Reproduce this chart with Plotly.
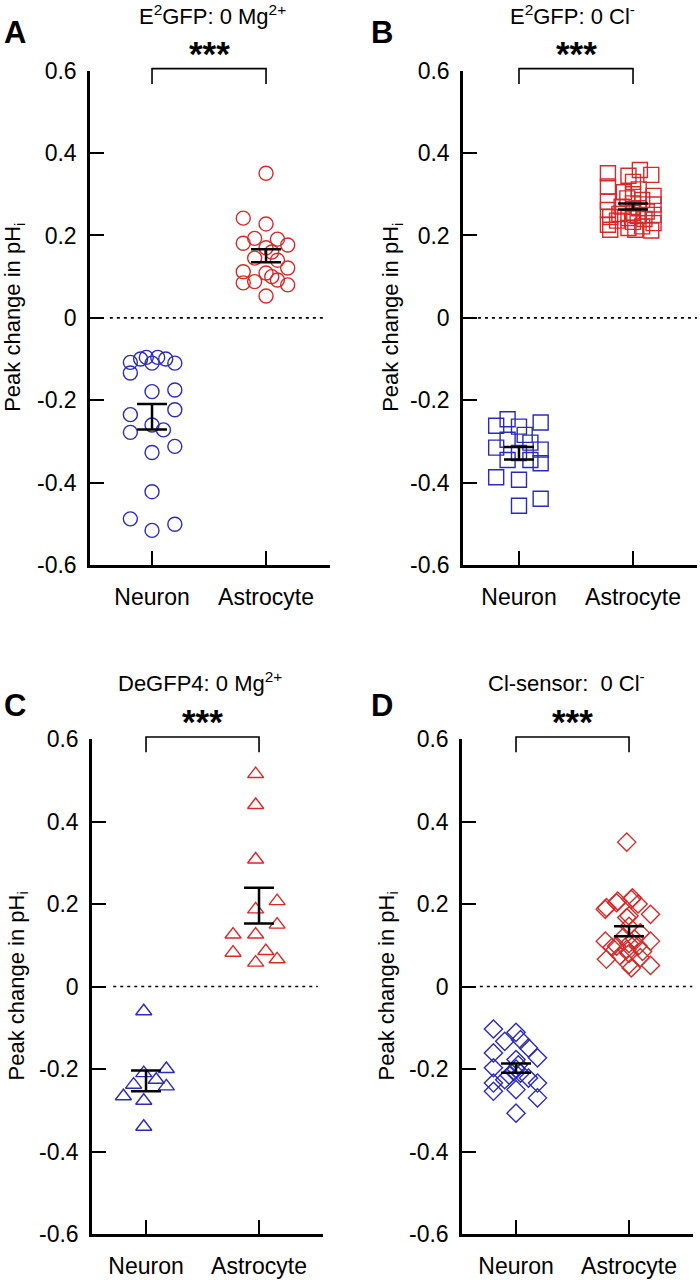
import numpy as np
import plotly.graph_objects as go

# ---------------- data ----------------
categories = ["Neuron", "Astrocyte"]
y_tick_vals = [-0.6, -0.4, -0.2, 0, 0.2, 0.4, 0.6]
y_tick_text = ["-0.6", "-0.4", "-0.2", "0", "0.2", "0.4", "0.6"]

titles = ["E<sup>2</sup>GFP: 0 Mg<sup>2+</sup>", "E<sup>2</sup>GFP: 0 Cl<sup>-</sup>",
          "DeGFP4: 0 Mg<sup>2+</sup>", "Cl-sensor:  0 Cl<sup>-</sup>"]
panel_letters = ["A", "B", "C", "D"]
significance = ["***", "***", "***", "***"]

# Panel A (circles)
A_neu = [-0.108, -0.100, -0.096, -0.096, -0.110, -0.100, -0.110, -0.134, -0.179, -0.175, -0.235,
         -0.223, -0.278, -0.260, -0.272, -0.312, -0.327, -0.422, -0.488, -0.501, -0.516]
A_neu_jit = [-0.19, -0.10, -0.05, 0.05, 0.0, 0.12, 0.20, -0.19, 0.0, 0.20, -0.19,
             0.20, -0.19, 0.0, 0.10, 0.20, 0.0, 0.0, -0.19, 0.20, 0.0]
A_ast = [0.351, 0.242, 0.228, 0.193, 0.191, 0.181, 0.177, 0.170, 0.160, 0.145,
         0.140, 0.121, 0.112, 0.109, 0.100, 0.092, 0.088, 0.085, 0.080, 0.053]
A_ast_jit = [0.0, -0.2, 0.0, -0.1, 0.1, -0.2, 0.19, 0.0, 0.05, -0.1,
             0.1, 0.19, -0.2, 0.0, 0.05, 0.1, -0.1, -0.2, 0.19, 0.0]

# Panel B (squares)
B_neu = [-0.246, -0.254, -0.262, -0.264, -0.284, -0.296, -0.303, -0.315, -0.320,
         -0.328, -0.345, -0.345, -0.353, -0.387, -0.393, -0.439, -0.456]
B_neu_jit = [-0.1, 0.19, -0.2, 0.0, 0.05, -0.1, 0.1, -0.2, 0.19,
             0.0, -0.1, 0.1, 0.19, -0.2, 0.0, 0.19, 0.0]
B_ast = [0.359, 0.351, 0.347, 0.345, 0.330, 0.319, 0.312, 0.305, 0.300, 0.296,
         0.290, 0.286, 0.282, 0.278, 0.275, 0.270, 0.266, 0.262, 0.258, 0.255,
         0.252, 0.250, 0.247, 0.245, 0.242, 0.240, 0.236, 0.233, 0.230, 0.226,
         0.222, 0.218, 0.214, 0.212, 0.214]
B_ast_jit = [0.06, -0.22, 0.16, -0.04, 0.0, -0.22, 0.05, -0.08, 0.0, 0.18,
             -0.05, 0.08, -0.22, 0.0, 0.18, -0.1, 0.05, -0.22, 0.12, 0.0,
             -0.12, 0.18, 0.04, -0.2, -0.04, 0.1, -0.14, 0.0, 0.18, -0.22,
             0.08, -0.04, -0.2, 0.16, 0.02]

# Panel C (triangles)
C_neu = [-0.060, -0.200, -0.210, -0.226, -0.238, -0.242, -0.266, -0.277, -0.340]
C_neu_jit = [-0.02, 0.18, -0.02, 0.09, -0.11, 0.18, -0.2, -0.02, -0.02]
C_ast = [0.515, 0.440, 0.308, 0.207, 0.187, 0.150, 0.126, 0.126, 0.086, 0.082, 0.066, 0.058]
C_ast_jit = [-0.03, -0.03, -0.03, 0.16, -0.03, 0.16, -0.23, -0.03, 0.06, -0.23, 0.16, -0.03]

# Panel D (diamonds)
D_neu = [-0.103, -0.111, -0.129, -0.133, -0.149, -0.161, -0.173, -0.177, -0.190, -0.197,
         -0.200, -0.206, -0.210, -0.215, -0.222, -0.226, -0.234, -0.234, -0.250, -0.254,
         -0.270, -0.307]
D_neu_jit = [-0.2, 0.0, 0.04, -0.1, 0.11, -0.2, 0.19, 0.0, 0.02, -0.2,
             0.0, -0.02, 0.04, -0.06, 0.11, -0.1, 0.19, -0.2, 0.0, -0.2,
             0.19, 0.0]
D_ast = [0.350, 0.215, 0.211, 0.207, 0.203, 0.200, 0.191, 0.187, 0.175, 0.171,
         0.167, 0.146, 0.130, 0.120, 0.115, 0.110, 0.110, 0.104, 0.098, 0.098,
         0.095, 0.090, 0.085, 0.080, 0.075, 0.070, 0.066, 0.053, 0.051, 0.045]
D_ast_jit = [-0.02, 0.03, 0.02, -0.1, -0.11, 0.08, -0.2, -0.21, 0.19, 0.0,
             -0.02, 0.0, 0.1, -0.05, 0.05, -0.21, 0.19, 0.0, -0.11, 0.08,
             -0.15, -0.02, 0.12, 0.0, -0.08, 0.1, -0.2, 0.0, 0.19, 0.02]

# ---------------- styling / layout ----------------
W, H = 700, 1280
BLUE = "#2b2bb6"
RED = "#d42a2a"
FONT = "Liberation Sans, Arial, sans-serif"
TICK_SIZE = 23

panels = [
    dict(neu=A_neu, nj=A_neu_jit, ast=A_ast, aj=A_ast_jit, sym="circle-open", size=14,
         px=(90, 330), py=(70.7, 565), xr=(-0.544, 1.561), dot=(-0.37, 1.52),
         title_xy=(212, 15), letter_xy=(15, 33), ytitle_x=14),
    dict(neu=B_neu, nj=B_neu_jit, ast=B_ast, aj=B_ast_jit, sym="square-open", size=15,
         px=(463, 697), py=(70.7, 565), xr=(-0.491, 1.561), dot=(-0.36, 1.56),
         title_xy=(572, 15), letter_xy=(382, 33), ytitle_x=392),
    dict(neu=C_neu, nj=C_neu_jit, ast=C_ast, aj=C_ast_jit, sym="triangle-up-open", size=14,
         px=(92, 323), py=(739, 1234), xr=(-0.478, 1.566), dot=(-0.29, 1.52),
         title_xy=(200, 682), letter_xy=(15, 705), ytitle_x=17),
    dict(neu=D_neu, nj=D_neu_jit, ast=D_ast, aj=D_ast_jit, sym="diamond-open", size=14,
         px=(462, 693), py=(739, 1234), xr=(-0.478, 1.566), dot=(-0.32, 1.56),
         title_xy=(566, 682), letter_xy=(382, 705), ytitle_x=387),
]

YR = (-0.6, 0.6)


def paper_x(px):
    return px / W


def paper_y(py):
    return 1 - py / H


fig = go.Figure()
shapes = []
annotations = []

for i, p in enumerate(panels):
    n = "" if i == 0 else str(i + 1)
    xa, ya = "x" + n, "y" + n

    def x_to_px(v, p=p):
        return p["px"][0] + (v - p["xr"][0]) / (p["xr"][1] - p["xr"][0]) * (p["px"][1] - p["px"][0])

    def y_to_px(v, p=p):
        return p["py"][1] - (v - YR[0]) / (YR[1] - YR[0]) * (p["py"][1] - p["py"][0])

    for k, (vals, jit, col) in enumerate([(p["neu"], p["nj"], BLUE), (p["ast"], p["aj"], RED)]):
        xs = [k + j for j in jit]
        fig.add_trace(go.Scatter(
            x=xs, y=vals, mode="markers", xaxis=xa, yaxis=ya, showlegend=False,
            marker=dict(symbol=p["sym"], size=p["size"], color=col,
                        line=dict(width=1.4, color=col)),
            cliponaxis=False, hoverinfo="y"))
    # mean +/- SEM
    for k, vals in enumerate([p["neu"], p["ast"]]):
        arr = np.array(vals)
        m = arr.mean()
        sem = arr.std(ddof=1) / np.sqrt(len(arr))
        fig.add_trace(go.Scatter(
            x=[k], y=[m], mode="markers", xaxis=xa, yaxis=ya, showlegend=False,
            marker=dict(size=1, color="rgba(0,0,0,0)"),
            error_y=dict(type="data", array=[sem], visible=True, color="black",
                         thickness=2.5, width=15),
            cliponaxis=False, hoverinfo="y"))

    fig.update_layout(**{
        "xaxis" + n: dict(
            domain=[paper_x(p["px"][0]), paper_x(p["px"][1])], range=list(p["xr"]),
            anchor=ya, tickvals=[0, 1], ticktext=categories, showline=True,
            linecolor="black", linewidth=2.5, ticks="inside", ticklen=14, tickwidth=2,
            tickcolor="black", showgrid=False, zeroline=False, ticklabelstandoff=10,
            automargin=False,
            tickfont=dict(family=FONT, size=TICK_SIZE, color="black")),
        "yaxis" + n: dict(
            domain=[paper_y(p["py"][1]), paper_y(p["py"][0])], range=list(YR),
            anchor=xa, tickvals=y_tick_vals, ticktext=y_tick_text, showline=True,
            linecolor="black", linewidth=2.5, ticks="inside", ticklen=14, tickwidth=2,
            tickcolor="black", showgrid=False, zeroline=False, ticklabelstandoff=6,
            automargin=False,
            tickfont=dict(family=FONT, size=TICK_SIZE, color="black")),
    })

    # dotted zero line
    shapes.append(dict(type="line", xref=xa, yref=ya, x0=p["dot"][0], x1=p["dot"][1],
                       y0=0, y1=0, line=dict(color="black", width=1.6, dash="3px,4px")))

    # significance bracket
    bx0, bx1 = paper_x(x_to_px(0)), paper_x(x_to_px(1))
    btop_px = y_to_px(0.605)
    btop = paper_y(btop_px)
    bleg = paper_y(y_to_px(0.568))
    shapes.append(dict(type="path", xref="paper", yref="paper",
                       path=f"M{bx0},{bleg} L{bx0},{btop} L{bx1},{btop} L{bx1},{bleg}",
                       line=dict(color="black", width=1.6)))
    annotations.append(dict(x=(bx0 + bx1) / 2, y=paper_y(btop_px - 15),
                            xref="paper", yref="paper", text="<b>" + significance[i] + "</b>",
                            showarrow=False, xanchor="center", yanchor="middle",
                            font=dict(family=FONT, size=35, color="black")))

    # panel title
    annotations.append(dict(x=paper_x(p["title_xy"][0]), y=paper_y(p["title_xy"][1]),
                            xref="paper", yref="paper", text=titles[i], showarrow=False,
                            xanchor="center", yanchor="middle",
                            font=dict(family=FONT, size=22, color="black")))
    # panel letter
    annotations.append(dict(x=paper_x(p["letter_xy"][0]), y=paper_y(p["letter_xy"][1]),
                            xref="paper", yref="paper", text="<b>" + panel_letters[i] + "</b>",
                            showarrow=False, xanchor="center", yanchor="middle",
                            font=dict(family=FONT, size=31, color="black")))
    # y-axis title
    annotations.append(dict(x=paper_x(p["ytitle_x"]), y=paper_y(y_to_px(0)),
                            xref="paper", yref="paper", text="Peak change in pH<sub>i</sub>",
                            showarrow=False, textangle=-90, xanchor="center", yanchor="middle",
                            font=dict(family=FONT, size=22, color="black")))

fig.update_layout(width=W, height=H,
                  margin=dict(l=0, r=0, t=0, b=0, pad=0, autoexpand=False),
                  paper_bgcolor="white", plot_bgcolor="white",
                  shapes=shapes, annotations=annotations, showlegend=False)

# remove the browser's default page margin so the 700x1280 figure fills the window
fig.write_html("out.html", config={"displayModeBar": False},
               post_script="document.body.style.margin='0px';")
